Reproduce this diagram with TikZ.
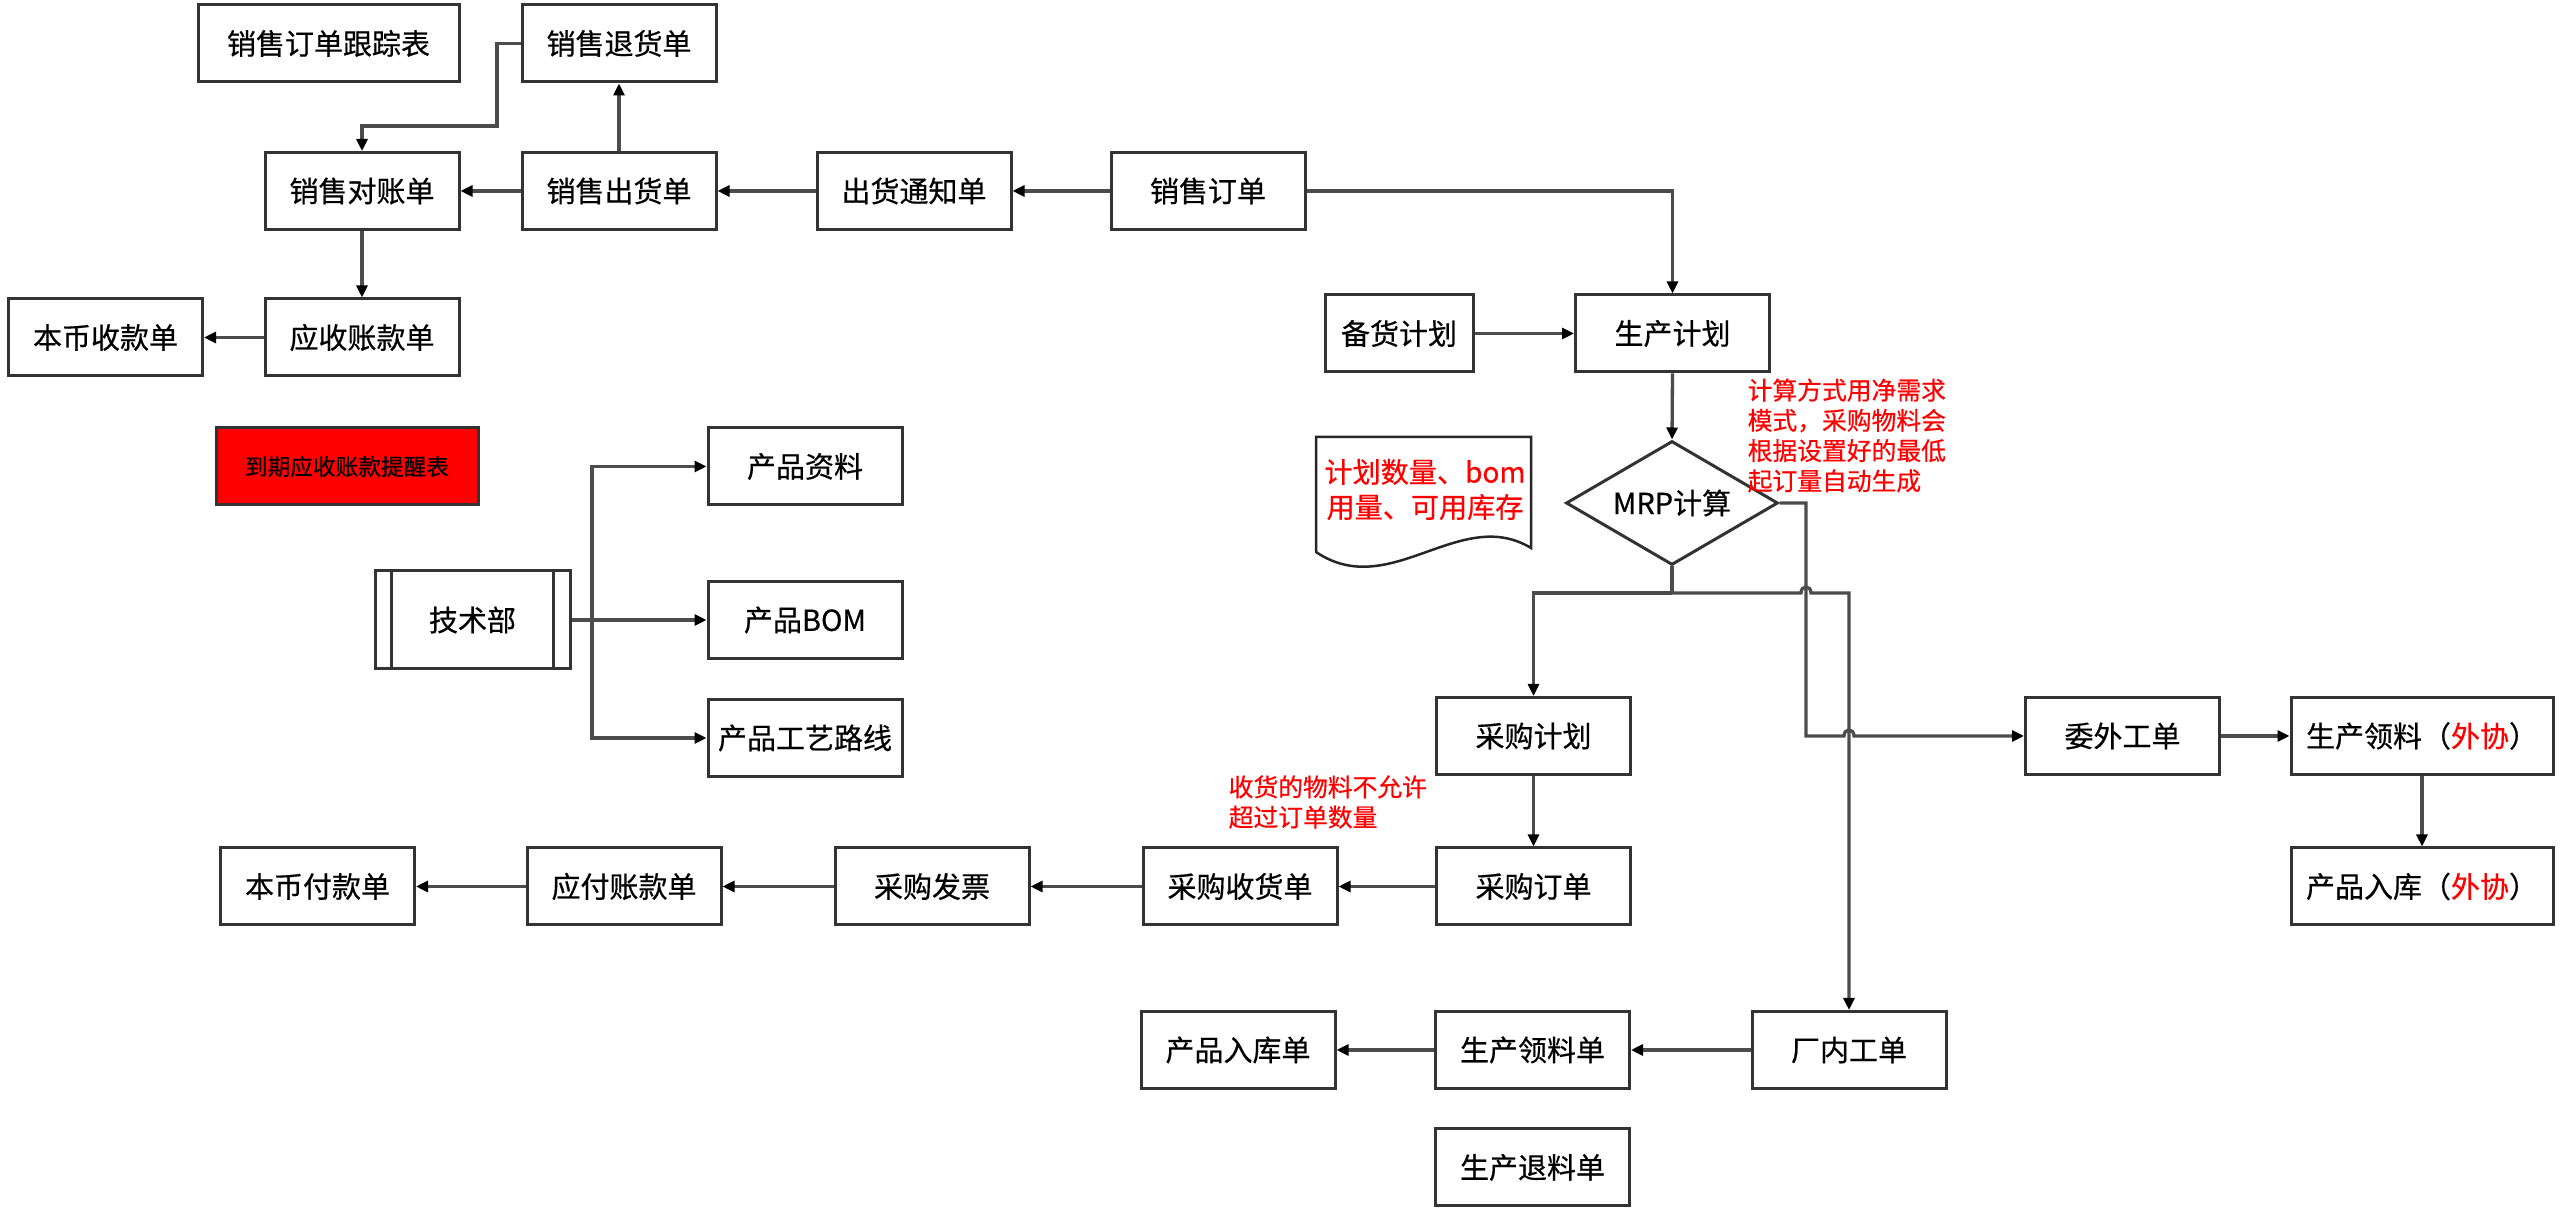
\documentclass[tikz,border=0pt]{standalone}
\usepackage{fontspec}
\newfontfamily\cjk[FakeBold=0.5]{Noto Sans CJK SC}
\usetikzlibrary{arrows.meta,shapes.geometric,calc}
\begin{document}
\begin{tikzpicture}[x=0.1mm,y=-0.1mm,
  box/.style={draw=black!80, line width=0.3mm, fill=white, minimum width=19.4mm, minimum height=7.7mm, inner sep=0pt, font=\cjk\fontsize{8.25}{10}\selectfont, text=black},
  conn/.style={draw=black!70, line width=0.33mm, -{Triangle[length=1.2mm,width=1.1mm,color=black]}},
  plain/.style={draw=black!70, line width=0.33mm},
  note/.style={text=red, font=\cjk\fontsize{7.05}{8.6}\selectfont, align=left, inner sep=0pt},
  doctxt/.style={text=red, font=\cjk\fontsize{8}{10}\selectfont, align=center, inner sep=0pt},
  docst/.style={draw=black!85, line width=0.25mm, fill=white}
]
\fill[white] (0,0) rectangle (2560,1218);
\useasboundingbox (0,0) rectangle (2560,1218);

% nodes
\node[box, minimum width=26.1mm] (trk) at (328.5,43.5) {销售订单跟踪表};
\node[box] (ret) at (619,43.5) {销售退货单};
\node[box] (rec) at (362,191) {销售对账单};
\node[box] (out) at (619,191) {销售出货单};
\node[box] (ntf) at (914,191) {出货通知单};
\node[box] (so) at (1208,191) {销售订单};
\node[box] (cash) at (105.5,337.5) {本币收款单};
\node[box] (ar) at (362,337.5) {应收账款单};
\node[box, minimum width=14.8mm] (stk) at (1399,333.5) {备货计划};
\node[box] (pp) at (1672.5,333.5) {生产计划};
\node[box, fill=red, minimum width=26.2mm, font=\cjk\fontsize{6.45}{8}\selectfont] (alarm) at (347,466.5) {到期应收账款提醒表};
\node[box] (zl) at (805,466.5) {产品资料};
\node[box, minimum width=19.5mm, minimum height=9.8mm] (tech) at (472.5,620) {技术部};
\draw[draw=black!80, line width=0.22mm] ($(tech.north west)+(18,0)$) -- ($(tech.south west)+(18,0)$);
\draw[draw=black!80, line width=0.22mm] ($(tech.north east)+(-18,0)$) -- ($(tech.south east)+(-18,0)$);
\node[box] (bom) at (805,620) {产品BOM};
\node[box] (gy) at (805,738) {产品工艺路线};
\node[diamond, draw=black!80, line width=0.3mm, fill=white, aspect=1.7, inner sep=0pt, minimum width=21.2mm, minimum height=12.4mm, font=\cjk\fontsize{8.25}{10}\selectfont] (mrp) at (1672,503) {MRP计算};
\node[box] (cgjh) at (1533.5,736) {采购计划};
\node[box] (ww) at (2122.5,736) {委外工单};
\node[box, minimum width=26.2mm] (sllw) at (2422,736) {生产领料（\textcolor{red}{外协}）};
\node[box] (cgdd) at (1533.5,886.5) {采购订单};
\node[box] (cgsh) at (1240,886.5) {采购收货单};
\node[box] (fp) at (932,886.5) {采购发票};
\node[box] (ap) at (624,886.5) {应付账款单};
\node[box] (pay) at (317.5,886.5) {本币付款单};
\node[box, minimum width=26.2mm] (rkw) at (2422,886.5) {产品入库（\textcolor{red}{外协}）};
\node[box] (cn) at (1849,1050) {厂内工单};
\node[box] (scll) at (1532.5,1050) {生产领料单};
\node[box] (rkd) at (1238,1050) {产品入库单};
\node[box] (tl) at (1532.5,1167.5) {生产退料单};

% document shape
\draw[docst] (1316,437) -- (1531,437) -- (1531,548) .. controls (1460,505) and (1390,602) .. (1316,552) -- cycle;
\node[doctxt] (doctext) at (1425,489.5) {计划数量、bom\\用量、可用库存};

% annotations
\node[note, anchor=west] (n1) at (1747,435.5) {计算方式用净需求\\模式，采购物料会\\根据设置好的最低\\起订量自动生成};
\node[note, anchor=west] (n2) at (1228,802) {收货的物料不允许\\超过订单数量};

% connectors
\draw[conn] (out.west) -- (rec.east);
\draw[conn] (ntf.west) -- (out.east);
\draw[conn] (so.west) -- (ntf.east);
\draw[conn] (out.north) -- (ret.south);
\coordinate (rb) at (497,126);
\draw[conn] (ret.west) -| (rb) -| (rec.north);
\draw[conn] (rec.south) -- (ar.north);
\draw[conn] (ar.west) -- (cash.east);
\draw[conn] (so.east) -| (pp.north);
\draw[conn] (stk.east) -- (pp.west);
\draw[conn] (pp.south) -- (mrp.north);
\coordinate (j) at (1672,593);
\draw[plain] (mrp.south) -- (j);
\draw[conn] (j) -| (cgjh.north);
\draw[conn] (j) -- (1801,593) .. controls (1801,585) and (1811,585) .. (1811,593) -| (cn.north);
\draw[conn] (mrp.east) -- (1806,503) -- (1806,736) -- (1844,736) .. controls (1844,728) and (1854,728) .. (1854,736) -- (ww.west);
\draw[conn] (ww.east) -- (sllw.west);
\draw[conn] (sllw.south) -- (rkw.north);
\draw[conn] (cgjh.south) -- (cgdd.north);
\draw[conn] (cgdd.west) -- (cgsh.east);
\draw[conn] (cgsh.west) -- (fp.east);
\draw[conn] (fp.west) -- (ap.east);
\draw[conn] (ap.west) -- (pay.east);
\draw[conn] (cn.west) -- (scll.east);
\draw[conn] (scll.west) -- (rkd.east);
\coordinate (tj) at (592,620);
\draw[plain] (tech.east) -- (tj);
\draw[conn] (tj) |- (zl.west);
\draw[conn] (tj) -- (bom.west);
\draw[conn] (tj) |- (gy.west);
\end{tikzpicture}
\end{document}
